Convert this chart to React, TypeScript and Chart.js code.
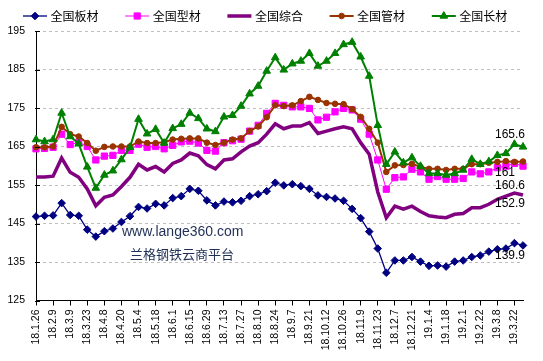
import React, { useEffect, useRef } from "react";
import { Chart, registerables } from "chart.js";

Chart.register(...registerables);

// ---- data ----
const tickLabels = [
  "18.1.26", "18.2.9", "18.3.9", "18.3.23", "18.4.8", "18.4.20", "18.5.4", "18.5.18",
  "18.6.1", "18.6.15", "18.6.29", "18.7.13", "18.7.27", "18.8.10", "18.8.24", "18.9.7",
  "18.9.21", "18.10.12", "18.10.26", "18.11.9", "18.11.23", "18.12.7", "18.12.21", "19.1.4",
  "19.1.18", "19.2.1", "19.2.22", "19.3.8", "19.3.22",
];

const seriesNames = ["全国板材", "全国型材", "全国综合", "全国管材", "全国长材"];

const plate = [
  146.8, 147.0, 147.1, 150.3, 147.2, 147.0, 143.4, 141.6, 143.0, 143.7,
  145.4, 146.9, 149.3, 148.9, 150.1, 149.7, 151.6, 152.1, 154.0, 153.5,
  151.0, 149.7, 150.7, 150.5, 150.9, 152.1, 152.6, 153.4, 155.6, 154.9,
  155.2, 154.7, 154.0, 152.3, 151.9, 151.5, 150.9, 148.8, 146.4, 142.9,
  138.5, 132.2, 135.4, 135.4, 136.3, 135.1, 134.0, 134.1, 133.8, 135.1,
  135.4, 136.3, 136.7, 137.7, 138.3, 138.5, 139.9, 139.3,
];

const section = [
  164.4, 164.5, 164.8, 168.2, 165.5, 166.1, 165.0, 161.5, 162.5, 162.7,
  164.0, 164.0, 165.6, 164.8, 165.0, 164.4, 165.3, 166.2, 166.4, 165.9,
  164.0, 163.8, 166.0, 166.5, 166.9, 169.0, 170.5, 173.6, 176.2, 175.7,
  175.3, 175.3, 174.9, 171.9, 172.6, 174.0, 174.9, 174.5, 172.1, 168.2,
  161.5, 153.9, 156.9, 157.1, 159.1, 158.4, 156.5, 157.2, 156.5, 156.5,
  156.7, 158.4, 157.9, 158.4, 159.5, 159.9, 160.6, 159.9,
];

const composite = [
  157.1, 157.1, 157.3, 162.0, 158.3, 157.0, 154.0, 149.6, 151.8, 152.4,
  154.6, 157.0, 160.4, 158.9, 159.8, 158.4, 160.6, 161.5, 163.3, 162.6,
  160.3, 159.2, 161.5, 161.8, 163.6, 165.1, 166.0, 168.2, 170.9, 169.6,
  170.3, 170.3, 171.2, 168.4, 169.0, 169.6, 170.1, 169.6, 166.0, 163.0,
  153.2, 146.5, 149.5, 148.7, 149.5, 148.1, 147.0, 146.7, 146.5, 147.4,
  147.6, 149.1, 149.1, 150.0, 151.3, 152.1, 152.9, 152.4,
];

const pipe = [
  164.8, 164.8, 165.0, 170.1, 168.2, 167.6, 165.9, 163.9, 164.9, 165.0,
  165.0, 165.0, 166.3, 165.9, 165.9, 166.1, 166.8, 167.0, 167.1, 167.1,
  166.0, 165.4, 166.0, 166.8, 167.1, 169.0, 170.2, 172.6, 175.7, 175.5,
  175.7, 176.8, 177.9, 177.1, 176.3, 176.1, 176.0, 174.7, 172.7, 169.6,
  166.0, 158.4, 160.1, 160.2, 160.5, 159.7, 159.2, 159.2, 158.9, 159.2,
  159.2, 160.4, 160.4, 160.8, 161.0, 161.2, 161.0, 161.1,
];

const longProduct = [
  166.8, 166.3, 166.8, 173.7, 167.6, 165.7, 159.7, 154.2, 157.6, 158.7,
  161.6, 164.8, 172.1, 168.3, 169.5, 165.9, 169.7, 170.8, 173.7, 172.3,
  169.6, 168.9, 172.7, 173.1, 175.5, 178.7, 180.7, 184.6, 188.1, 184.9,
  186.5, 187.2, 189.2, 185.9, 187.2, 189.2, 191.5, 192.1, 188.3, 183.3,
  170.5, 160.4, 163.6, 160.8, 162.1, 159.9, 158.0, 158.0, 157.6, 158.0,
  158.9, 161.7, 160.4, 161.1, 162.7, 163.2, 165.6, 164.9,
];

const endLabelIndex = 56;
const yMin = 125;
const yMax = 195;
const yStep = 10;
const watermarkLines = ["www.lange360.com", "兰格钢铁云商平台"];

// ---- styles ----
const colors = ["#000080", "#FF00FF", "#800080", "#993300", "#008000"];
const styles = [
  { width: 1.3, point: "rectRot", radius: 3.8 },
  { width: 1, point: "rect", radius: 4.4 },
  { width: 3.5, point: "none", radius: 0 },
  { width: 2, point: "circle", radius: 2.8 },
  { width: 2, point: "triangle", radius: 4.4 },
];

function drawMarker(ctx: CanvasRenderingContext2D, kind: string, x: number, y: number, r: number) {
  ctx.beginPath();
  if (kind === "rectRot") {
    ctx.moveTo(x - r, y);
    ctx.lineTo(x, y - r);
    ctx.lineTo(x + r, y);
    ctx.lineTo(x, y + r);
    ctx.closePath();
  } else if (kind === "rect") {
    const s = r * Math.SQRT1_2;
    ctx.rect(x - s, y - s, 2 * s, 2 * s);
  } else if (kind === "circle") {
    ctx.arc(x, y, r, 0, Math.PI * 2);
  } else if (kind === "triangle") {
    let a = 0;
    ctx.moveTo(x + Math.sin(a) * r, y - Math.cos(a) * r);
    a += (2 * Math.PI) / 3;
    ctx.lineTo(x + Math.sin(a) * r, y - Math.cos(a) * r);
    a += (2 * Math.PI) / 3;
    ctx.lineTo(x + Math.sin(a) * r, y - Math.cos(a) * r);
    ctx.closePath();
  } else {
    return;
  }
  ctx.fill();
  ctx.stroke();
}

const overlayPlugin = {
  id: "overlay",
  afterDraw(chart: any) {
    const ctx: CanvasRenderingContext2D = chart.ctx;
    const { left } = chart.chartArea;
    const xs = chart.scales.x;
    const ys = chart.scales.y;
    ctx.save();

    // inner tick marks on the value axis
    ctx.strokeStyle = "#000";
    ctx.lineWidth = 1;
    ys.ticks.forEach((t: any) => {
      const py = Math.round(ys.getPixelForValue(t.value)) + 0.5;
      ctx.beginPath();
      ctx.moveTo(left - 1, py);
      ctx.lineTo(left + 4, py);
      ctx.stroke();
    });

    // legend
    ctx.font = "12px 'Noto Sans CJK SC'";
    ctx.textBaseline = "middle";
    ctx.textAlign = "left";
    const legendY = 16;
    seriesNames.forEach((name, i) => {
      const x0 = 23 + i * 102.2;
      const st = styles[i];
      ctx.strokeStyle = colors[i];
      ctx.fillStyle = colors[i];
      ctx.lineWidth = st.width;
      ctx.beginPath();
      ctx.moveTo(x0, legendY);
      ctx.lineTo(x0 + 24, legendY);
      ctx.stroke();
      ctx.lineWidth = 1;
      drawMarker(ctx, st.point, x0 + 12, legendY, st.radius);
      ctx.fillStyle = "#000";
      ctx.fillText(name, x0 + 27.5, legendY + 0.5);
    });

    // watermark
    ctx.fillStyle = "#1F2F55";
    ctx.font = "14px 'Liberation Sans'";
    ctx.fillText(watermarkLines[0], 122, 232);
    ctx.font = "13px 'Noto Sans CJK SC'";
    ctx.fillText(watermarkLines[1], 130, 254);

    // end value labels
    const specs = [
      { ds: 4, dy: -10 },
      { ds: 3, dy: 11 },
      { ds: 1, dy: 22 },
      { ds: 2, dy: 10.5 },
      { ds: 0, dy: 13 },
    ];
    ctx.fillStyle = "#000";
    ctx.font = "12px 'Liberation Sans'";
    const lx = xs.getPixelForValue(endLabelIndex) - 19.5;
    specs.forEach((s) => {
      const v = chart.data.datasets[s.ds].data[endLabelIndex];
      const py = ys.getPixelForValue(v) + s.dy;
      ctx.fillText(String(v), lx, py);
    });
    ctx.restore();
  },
};

export default function App() {
  const ref = useRef<HTMLCanvasElement | null>(null);

  useEffect(() => {
    if (!ref.current) return;
    const labels = plate.map((_, i) => (i % 2 === 0 ? tickLabels[i / 2] ?? "" : ""));
    const seriesData = [plate, section, composite, pipe, longProduct];
    const datasets = seriesData.map((d, i) => ({
      label: seriesNames[i],
      data: d,
      borderColor: colors[i],
      backgroundColor: colors[i],
      borderWidth: styles[i].width,
      pointStyle: styles[i].point === "none" ? "circle" : styles[i].point,
      pointRadius: styles[i].radius,
      pointBorderWidth: 1,
      pointBackgroundColor: colors[i],
      pointBorderColor: colors[i],
      tension: 0,
      fill: false,
      order: 5 - i,
    }));

    const chart = new Chart(ref.current, {
      type: "line",
      data: { labels, datasets: datasets as any },
      options: {
        responsive: false,
        animation: false,
        devicePixelRatio: 1,
        layout: { padding: { top: 31, right: 20, left: 0, bottom: 0 } },
        plugins: {
          legend: { display: false },
          tooltip: { enabled: false },
          title: { display: false },
        },
        scales: {
          x: {
            type: "category",
            offset: false,
            grid: {
              display: true,
              drawOnChartArea: false,
              drawTicks: true,
              tickLength: 5,
              lineWidth: 1,
              color: (c: any) => (c.index % 2 === 0 ? "#000" : "rgba(0,0,0,0)"),
            },
            border: { display: true, color: "#000", width: 1 },
            ticks: {
              autoSkip: false,
              maxRotation: 90,
              minRotation: 90,
              padding: 4,
              color: "#000",
              font: { family: "'Liberation Sans'", size: 10.5 },
            },
            afterFit: (s: any) => {
              s.height = 60.5;
            },
          },
          y: {
            min: yMin,
            max: yMax,
            ticks: {
              stepSize: yStep,
              padding: 11,
              color: "#000",
              font: { family: "'Liberation Sans'", size: 10.5 },
            },
            grid: {
              drawTicks: false,
              lineWidth: 1,
              color: (c: any) => (c.tick && c.tick.value === yMin ? "rgba(0,0,0,0)" : "#BFBFBF"),
            },
            border: { display: true, color: "#000", width: 1, dash: [3, 3] },
            afterFit: (s: any) => {
              s.width = 36;
            },
          },
        },
      },
      plugins: [overlayPlugin],
    });
    return () => chart.destroy();
  }, []);

  return (
    <div style={{ position: "absolute", left: 0, top: 0, width: 543, height: 361, background: "#fff" }}>
      <canvas ref={ref} width={543} height={361} style={{ display: "block" }} />
    </div>
  );
}
